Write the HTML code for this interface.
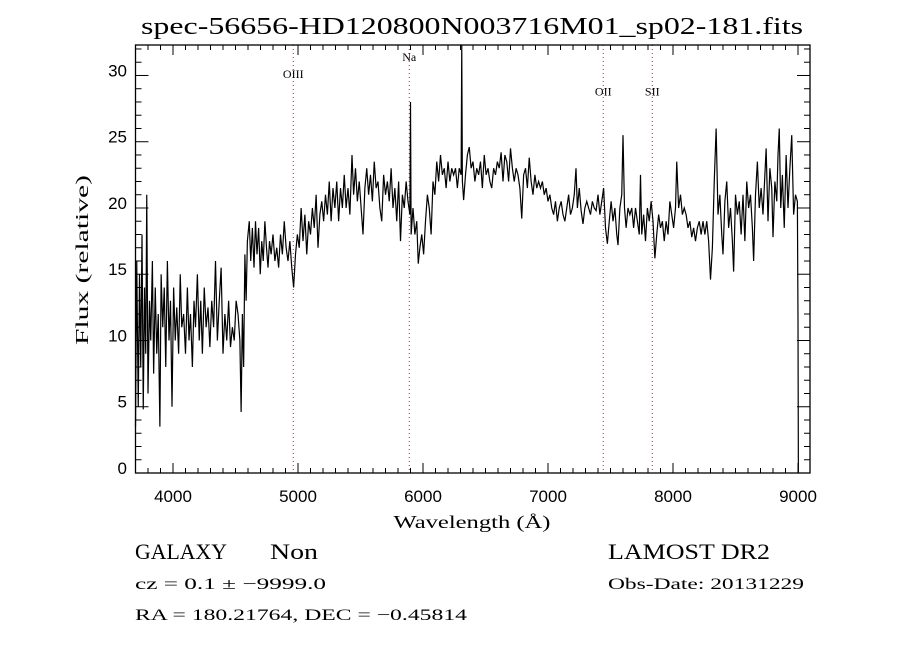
<!DOCTYPE html>
<html><head><meta charset="utf-8"><style>
html,body{margin:0;padding:0;background:#fff;width:900px;height:650px;overflow:hidden}
svg{display:block}
.serif{font-family:"Liberation Serif","DejaVu Serif",serif;fill:#000}
.sans{font-family:"Liberation Sans","DejaVu Sans",sans-serif;fill:#000}
</style></head><body>
<svg id="chart" width="900" height="650" viewBox="0 0 900 650" xmlns="http://www.w3.org/2000/svg">
<rect width="900" height="650" fill="#fff"/>
<text class="serif" x="472" y="34" text-anchor="middle" font-size="24" textLength="662" lengthAdjust="spacingAndGlyphs">spec-56656-HD120800N003716M01_sp02-181.fits</text>
<g id="markers"></g>
<g id="axes"></g>
<path id="spec" fill="none" stroke="#000" stroke-width="1.2" stroke-linejoin="miter"/>
<rect x="135.5" y="45" width="674.5" height="428" fill="none" stroke="#000" stroke-width="1.3"/>
<text class="serif" x="472" y="528" text-anchor="middle" font-size="18" textLength="157" lengthAdjust="spacingAndGlyphs">Wavelength (Å)</text>
<text class="serif" transform="translate(88,260) rotate(-90)" text-anchor="middle" font-size="18" textLength="170" lengthAdjust="spacingAndGlyphs">Flux (relative)</text>
<text class="serif" x="135" y="559" font-size="22" textLength="92" lengthAdjust="spacingAndGlyphs">GALAXY</text>
<text class="serif" x="270" y="559" font-size="22" textLength="48" lengthAdjust="spacingAndGlyphs">Non</text>
<text class="serif" x="135" y="589" font-size="16" textLength="191" lengthAdjust="spacingAndGlyphs">cz = 0.1 ± −9999.0</text>
<text class="serif" x="135" y="620" font-size="16" textLength="332" lengthAdjust="spacingAndGlyphs">RA = 180.21764, DEC =  −0.45814</text>
<text class="serif" x="608" y="559" font-size="22" textLength="162" lengthAdjust="spacingAndGlyphs">LAMOST DR2</text>
<text class="serif" x="608" y="589" font-size="16" textLength="196" lengthAdjust="spacingAndGlyphs">Obs-Date: 20131229</text>
</svg>
<script>
const wavelengths=[3700,3710,3722,3732,3742,3752,3762,3772,3782,3790,3800,3812,3822,3835,3845,3858,3870,3882,3895,3905,3918,3930,3942,3955,3968,3980,3992,4005,4018,4030,4045,4058,4070,4085,4100,4115,4128,4140,4155,4168,4180,4195,4210,4222,4235,4250,4265,4280,4295,4310,4325,4340,4355,4370,4385,4400,4415,4430,4445,4460,4475,4490,4505,4520,4535,4545,4555,4565,4575,4585,4595,4610,4622,4635,4648,4660,4672,4685,4698,4710,4722,4735,4748,4760,4772,4785,4800,4815,4830,4845,4860,4875,4890,4905,4920,4935,4950,4965,4980,4995,5010,5025,5040,5055,5070,5085,5100,5115,5130,5145,5160,5175,5190,5205,5220,5235,5250,5265,5280,5295,5310,5325,5340,5355,5370,5385,5400,5415,5432,5445,5460,5475,5490,5505,5520,5535,5550,5565,5580,5595,5610,5625,5640,5655,5670,5685,5700,5715,5730,5745,5760,5775,5790,5805,5820,5835,5850,5865,5880,5895,5900,5905,5920,5935,5950,5962,5975,5990,6005,6020,6035,6050,6065,6080,6095,6110,6125,6140,6155,6170,6185,6200,6215,6230,6245,6260,6275,6290,6305,6310,6315,6325,6340,6355,6370,6385,6400,6415,6430,6445,6460,6475,6490,6505,6520,6535,6550,6565,6580,6595,6610,6625,6640,6655,6670,6685,6700,6715,6730,6745,6760,6775,6790,6805,6820,6835,6850,6865,6880,6895,6910,6925,6940,6955,6970,6985,7000,7015,7030,7045,7060,7075,7090,7105,7120,7135,7150,7165,7180,7195,7210,7224,7235,7250,7265,7280,7295,7310,7325,7340,7355,7370,7385,7400,7415,7430,7445,7460,7475,7490,7505,7520,7535,7550,7560,7575,7590,7600,7612,7625,7640,7655,7670,7685,7700,7715,7730,7740,7750,7765,7780,7795,7810,7825,7840,7855,7870,7885,7900,7915,7930,7945,7960,7975,7990,8005,8020,8030,8045,8060,8075,8090,8105,8120,8135,8150,8165,8180,8195,8210,8225,8240,8255,8270,8285,8300,8315,8330,8345,8360,8375,8390,8400,8415,8430,8445,8460,8475,8485,8500,8515,8530,8545,8560,8575,8590,8605,8620,8635,8645,8660,8675,8690,8705,8720,8735,8745,8760,8775,8790,8800,8815,8830,8840,8850,8862,8875,8890,8905,8920,8935,8950,8965,8980,8995,9000,9003];
const fluxValues=[3.5,16,5,15,8,18,4.8,14,9,21,6,13,10,16,7.5,14,9,12,3.5,15,11,14,8,16,10,13,5,14,10,12.5,9,15,11,12,9,14,10,12,8,13,11,15,10,13,9,14,11,12.5,9.5,13,11,16,10,13,15.5,9,12,10,13,9.5,11,10,13,12,10,4.6,12,8,16.5,13,17.5,19,16,18.5,15.5,19,16.5,18.5,15,17.5,16,19,17,15.5,17.5,16.5,18,16,17,15.5,18,16.5,19,17,16,17.5,15.5,14,16.5,18,17,20,17.5,19.5,16.5,19,18,20,18.5,21,17,19.5,20.5,19,21,19.5,22,19,21.5,20,22,19,21.5,20,22.5,20,21.5,19.5,24,21,23,20.5,22,20,18,21.5,23,21,22.5,20.5,23.5,21.5,22,20,19,22.5,21,22,20.5,23,20,21.5,19,22,17.5,21,20,22,20.5,19.5,28,18,20,18,19,15.8,17,18,16.5,19,21,20,18,22,21,23.5,22,24,22.5,23,21.5,23.5,22,23,22.5,23,21.5,23,22.5,32.3,22,20.6,22.5,24,24.6,23,23.5,22,23,22.5,23.5,21.5,24,22.5,23,22,21.5,23,22.5,23.5,23,24.2,22,24,23.5,22,24.5,23,22,23,22.5,21.5,19.2,22.5,23,21.5,23.8,22,21,22.5,21.5,22,21.5,22,21,21.5,20.5,21,20,19.5,20.5,19,20,20.5,19.5,19,20,21,19.5,20,21,23,20,21.5,19.8,18.8,20,20.5,20,19.5,20.5,20,19.8,21,19.5,20.5,21.5,18.5,17.3,19,20.5,19,20,18,17.2,20,21,25.5,20,18.5,20,19.5,20,18.5,20,19,18,22.5,18,19.5,17.5,20,19,20.5,19,16.2,18,19.5,18.5,19,17.5,19,18,20.5,19.5,18.5,20,23.5,20,21,19.5,20,19.5,18.5,19,17.8,18.5,17.5,18.5,19,18,19,18,19,17.5,14.6,17,22,26,19.5,21,18,16.5,20.5,22,18.5,20,17.5,15.2,21,19.5,20.5,18,21,17.5,22,20,21,18.5,16,21,23.5,20,21.5,19.5,22.5,24.5,19,23,21.5,17.8,22,20.5,24,26,20,22.5,18.5,24,20,23,25.5,19.5,21,20.5,11.5,0];
const xTickValues=[4000,5000,6000,7000,8000,9000];
const xTickLabels=["4000","5000","6000","7000","8000","9000"];
const yTickValues=[0,5,10,15,20,25,30];
const yTickLabels=["0","5","10","15","20","25","30"];
const lineNames=["OIII","Na","OII","SII"];
const lineWavelengths=[4962,5890,7442,7834];
const lineLabelFlux=[29.8,31.1,28.5,28.5];

const X0=135.5,X1=810,Y0=45,Y1=473,XMIN=3700,XMAX=9096,YMIN=0,YMAX=32.3;
function xs(w){return X0+(w-XMIN)/(XMAX-XMIN)*(X1-X0);}
function ys(v){return Y1-(v-YMIN)/(YMAX-YMIN)*(Y1-Y0);}
const NS="http://www.w3.org/2000/svg";
function mk(tag,parent,attrs){const e=document.createElementNS(NS,tag);for(const k in attrs)e.setAttribute(k,attrs[k]);parent.appendChild(e);return e;}

// spectrum
let d="";
for(let i=0;i<wavelengths.length;i++){
  const y=Math.max(Y0,Math.min(Y1,ys(fluxValues[i])));
  d+=(i?"L":"M")+xs(wavelengths[i]).toFixed(2)+" "+y.toFixed(2);
}
document.getElementById("spec").setAttribute("d",d);

const axes=document.getElementById("axes");
// x ticks: minor every 100
for(let w=3700;w<=9096;w+=100){
  const major=(w%1000===0);
  const len=major?10:5;
  const x=xs(w);
  const t1=mk("line",axes,{x1:x,x2:x,y1:Y1,y2:Y1-len,stroke:"#000","stroke-width":1});
  
  
  const t2=mk("line",axes,{x1:x,x2:x,y1:Y0,y2:Y0+len,stroke:"#000","stroke-width":1});
  
  
}
xTickValues.forEach((v,i)=>{
  const t=mk("text",axes,{x:xs(v),y:502,"text-anchor":"middle","font-size":"17",class:"sans"});
  t.textContent=xTickLabels[i];
  
  
});
// y ticks: minor every 1
for(let v=0;v<=32;v+=1){
  const major=(v%5===0);
  const len=major?13:6;
  const y=ys(v);
  const t1=mk("line",axes,{x1:X0,x2:X0+len,y1:y,y2:y,stroke:"#000","stroke-width":1});
  
  
  const t2=mk("line",axes,{x1:X1,x2:X1-len,y1:y,y2:y,stroke:"#000","stroke-width":1});
  
  
}
yTickValues.forEach((v,i)=>{
  const t=mk("text",axes,{x:127,y:ys(v)+1,"text-anchor":"end","font-size":"17",class:"sans"});
  t.textContent=yTickLabels[i];
  
  
});
// emission/absorption line markers
const mg=document.getElementById("markers");
lineWavelengths.forEach((w,i)=>{
  const x=xs(w);
  const l=mk("line",mg,{x1:x,x2:x,y1:Y0,y2:Y1,stroke:"#8b3a3a","stroke-width":1,"stroke-dasharray":"1 3"});
  
  
  const t=mk("text",mg,{x:x,y:ys(lineLabelFlux[i]),"text-anchor":"middle","font-size":"12",class:"serif"});
  t.textContent=lineNames[i];
  
  
});
</script>
</body></html>
